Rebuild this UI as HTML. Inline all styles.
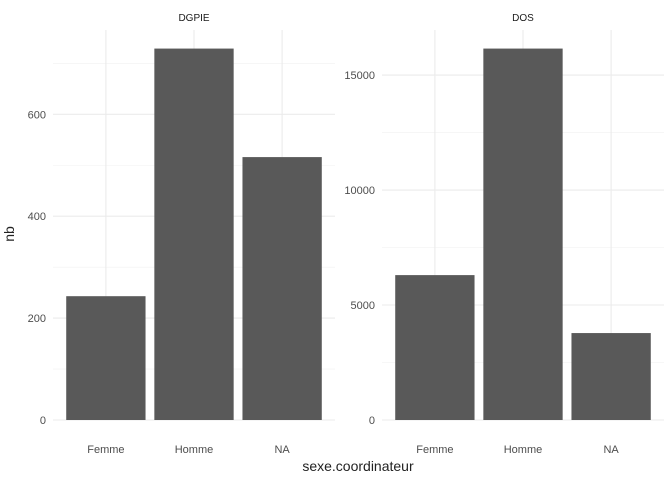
<!DOCTYPE html>
<html><head><meta charset="utf-8"><style>
body{margin:0;background:#fff;}
svg text{font-family:"Liberation Sans",sans-serif;}
</style></head><body>
<svg id="chart" width="672" height="480" xmlns="http://www.w3.org/2000/svg">
<rect width="672" height="480" fill="#fff"/>
<g id="g"></g>
<text x="14" y="234" font-size="14" fill="#222" text-anchor="middle" transform="rotate(-90 14 234)">nb</text>
<text x="358" y="471" font-size="14" fill="#222" text-anchor="middle">sexe.coordinateur</text>
</svg>
<script>
const categories=["Femme","Homme","NA"];
const dgpieValues=[243,729,516];
const dosValues=[6300,16150,3780];
const dgpieTicks=[0,200,400,600];
const dgpieMinor=[100,300,500,700];
const dosTicks=[0,5000,10000,15000];
const dosMinor=[2500,7500,12500];
const NS="http://www.w3.org/2000/svg";
const g=document.getElementById('g');
function mk(t,a){const e=document.createElementNS(NS,t);for(const k in a)e.setAttribute(k,a[k]);g.appendChild(e);return e;}
function panel(name,values,ticks,minor,left,right,facet){
  const top=30,bottom=420,n=categories.length;
  const maxV=Math.max(...values)*1.05;
  const y=v=>bottom-(v/maxV)*(bottom-top);
  const step=(right-left)/(n-1+1.2);
  const x=i=>left+step*(0.6+i);
  minor.forEach(v=>{if(y(v)<top)return;const l=mk('line',{x1:left,x2:right,y1:y(v),y2:y(v),stroke:'#f0f0f0','stroke-width':0.6});
    
    });
  ticks.forEach(v=>{const l=mk('line',{x1:left,x2:right,y1:y(v),y2:y(v),stroke:'#ebebeb','stroke-width':1.1});
    
    
    const t=mk('text',{x:left-7,y:y(v)+4,'font-size':11,fill:'#4d4d4d','text-anchor':'end'});t.textContent=v;
    
    });
  categories.forEach((c,i)=>{const l=mk('line',{x1:x(i),x2:x(i),y1:top,y2:bottom,stroke:'#ebebeb','stroke-width':1.1});
    
    });
  categories.forEach((c,i)=>{const w=step*0.9;
    const r=mk('rect',{x:x(i)-w/2,y:y(values[i]),width:w,height:bottom-y(values[i]),fill:'#595959'});
    
    
    const t=mk('text',{x:x(i),y:bottom+33,'font-size':11,fill:'#4d4d4d','text-anchor':'middle'});t.textContent=c;
    
    });
  const s=mk('text',{x:(left+right)/2,y:21,'font-size':10,fill:'#1a1a1a','text-anchor':'middle'});s.textContent=name;
  
  
}
panel('DGPIE',dgpieValues,dgpieTicks,dgpieMinor,53,335,'dgpie');
panel('DOS',dosValues,dosTicks,dosMinor,382,664,'dos');
</script>
</body></html>
